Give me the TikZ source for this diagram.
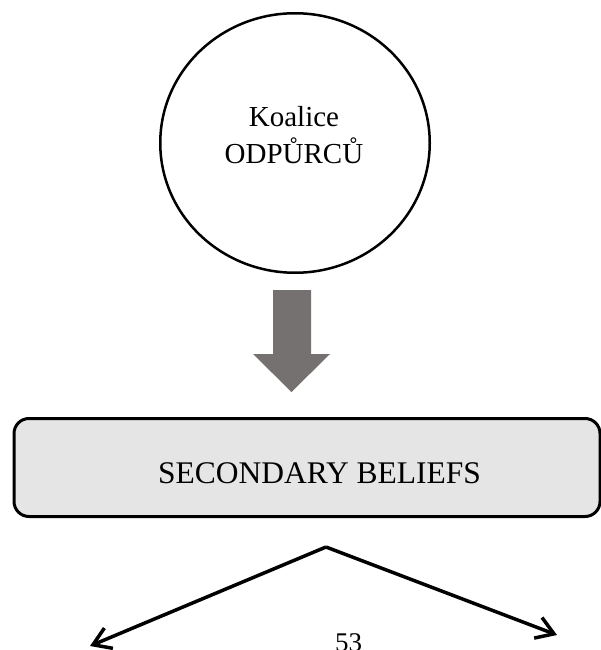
\documentclass[tikz,border=0pt]{standalone}
\usepackage{fontspec}
\setmainfont{Liberation Serif}
\usetikzlibrary{shapes.geometric,arrows.meta}
\definecolor{arrowgray}{HTML}{757170}
\definecolor{boxgray}{HTML}{E5E5E5}
\tikzset{
  coalition/.style={draw=black, line width=2.5pt, ellipse, minimum width=269.5pt, minimum height=259.5pt, inner sep=0pt},
  beliefbox/.style={draw=black, line width=3pt, fill=boxgray, rounded corners=15pt, minimum width=586pt, minimum height=98pt, inner sep=0pt},
  branch/.style={line width=3.5pt, -{Straight Barb[length=17pt,width=22pt,line width=3.5pt]}},
  bigarrow/.style={fill=arrowgray, draw=none}
}
\begin{document}
\begin{tikzpicture}[x=1pt,y=-1pt]
\useasboundingbox (0,0) rectangle (601,650);
\node[coalition] (coal) at (295,143) {};
\node[align=center, inner sep=0pt, font=\fontsize{29}{37}\selectfont, anchor=base] (coaltext) at (294,163.5) {Koalice\\ODPŮRCŮ};
\fill[bigarrow] (273,290) -- (311,290) -- (311,354) -- (330,354) -- (291.5,392) -- (253,354) -- (273,354) -- cycle;
\node[beliefbox] (box) at (307,467.5) {};
\node[inner sep=0pt, font=\fontsize{31.5}{38}\selectfont, anchor=base] (boxtext) at (319.5,483) {SECONDARY BELIEFS};
\coordinate (apex) at (326,547);
\coordinate (lefttip) at (90,646);
\coordinate (righttip) at (557,635);
\draw[branch, line join=miter] (apex) -- (lefttip);
\draw[branch, line join=miter] (apex) -- (righttip);
\node[inner sep=0pt, font=\fontsize{27}{32}\selectfont, anchor=base] (page) at (348.5,651.5) {53};
\end{tikzpicture}
\end{document}
